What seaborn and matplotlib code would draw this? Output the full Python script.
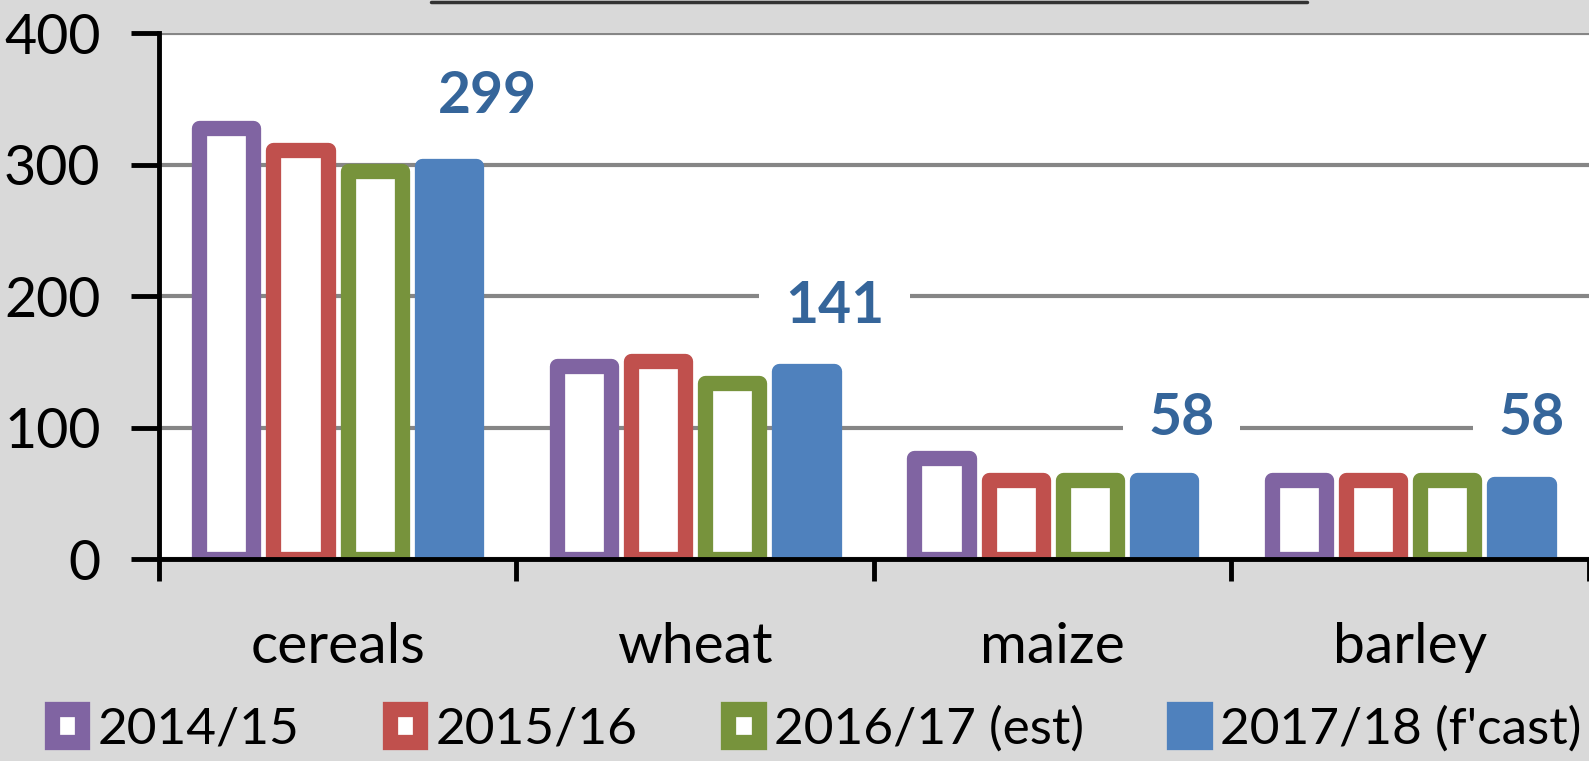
import matplotlib
matplotlib.use("Agg")
import matplotlib.pyplot as plt
from matplotlib.patches import Patch
from matplotlib.lines import Line2D
import numpy as np
import pandas as pd
import seaborn as sns

# data
crops = ["cereals", "wheat", "maize", "barley"]
seasons = ["2014/15", "2015/16", "2016/17 (est)", "2017/18 (f'cast)"]
v_2014 = [328, 147, 77, 60]
v_2015 = [311, 151, 60, 60]
v_2016 = [295, 134, 60, 60]
v_2017 = [299, 143, 60, 57]
fcast_labels = ["299", "141", "58", "58"]

colors = ["#8064a2", "#c0504d", "#77933c", "#4f81bd"]
hollow = [True, True, True, False]
label_color = "#35659a"
# where the forecast labels sit (category offset, y value)
label_pos = [(0.42, 352), (0.39, 192), (0.36, 107), (0.34, 107)]

df = pd.DataFrame({
    "crop": crops * 4,
    "season": np.repeat(seasons, 4),
    "value": v_2014 + v_2015 + v_2016 + v_2017,
})

sns.set_style("white")
plt.rcParams["font.family"] = ["Lato", "DejaVu Sans"]
plt.rcParams["text.color"] = "black"

fig = plt.figure(figsize=(15.89, 7.61), dpi=100)
fig.patch.set_facecolor("#d9d9d9")
ax = fig.add_axes([0.1, 0.2654, 0.9, 0.6906])
ax.set_facecolor("white")

sns.barplot(data=df, x="crop", y="value", hue="season", order=crops,
            hue_order=seasons, palette=colors, width=0.83, gap=0.27,
            legend=False, ax=ax, zorder=2)

for cont, col, hol in zip(ax.containers, colors, hollow):
    for p in cont:
        p.set_edgecolor(col)
        p.set_facecolor("white" if hol else col)
        p.set_linewidth(11)
        p.set_joinstyle("round")
        p.set_zorder(2)

for i, (txt, (dx, yv)) in enumerate(zip(fcast_labels, label_pos)):
    ax.text(i + dx, yv, txt, ha="center", va="center", fontsize=41,
            fontweight="bold", color=label_color, zorder=1,
            bbox=dict(boxstyle="square,pad=0.45", fc="white", ec="none"))

ax.set_xlim(-0.5, 3.5)
ax.set_ylim(0, 400)
ax.set_yticks([0, 100, 200, 300, 400])
ax.yaxis.grid(True, color="#868686", linewidth=3, zorder=0)
ax.set_axisbelow(True)
ax.set_xlabel("")
ax.set_ylabel("")

ax.set_xticks([-0.5, 0.5, 1.5, 2.5, 3.5])
ax.set_xticklabels([])
ax.set_xticks(range(4), minor=True)
ax.set_xticklabels(crops, minor=True)
ax.tick_params(axis="x", which="major", bottom=True, direction="out",
               length=16, width=3.5, color="black")
ax.tick_params(axis="x", which="minor", bottom=True, length=0, pad=45,
               labelsize=41, labelcolor="black")
ax.tick_params(axis="y", left=True, direction="out", length=20, width=3.5,
               color="black", pad=22, labelsize=40, labelcolor="black")

for s in ["top", "right"]:
    ax.spines[s].set_visible(False)
for s in ["left", "bottom"]:
    ax.spines[s].set_color("black")
    ax.spines[s].set_linewidth(3.5)
    ax.spines[s].set_zorder(3)

handles = [Patch(facecolor="white" if h else c, edgecolor=c, linewidth=11,
                 joinstyle="round") for c, h in zip(colors, hollow)]
fig.legend(handles, seasons, loc="lower center", bbox_to_anchor=(0.514, -0.05),
           ncol=4, frameon=False, fontsize=37, handlelength=0.6,
           handleheight=0.6, handletextpad=0.3, columnspacing=1.75)

# edge of a box that is cut off at the top
fig.add_artist(Line2D([0.271, 0.8225], [0.998, 0.998], color="#333333",
                      linewidth=2.5))

fig.savefig("out.png", dpi=100, facecolor=fig.get_facecolor())
